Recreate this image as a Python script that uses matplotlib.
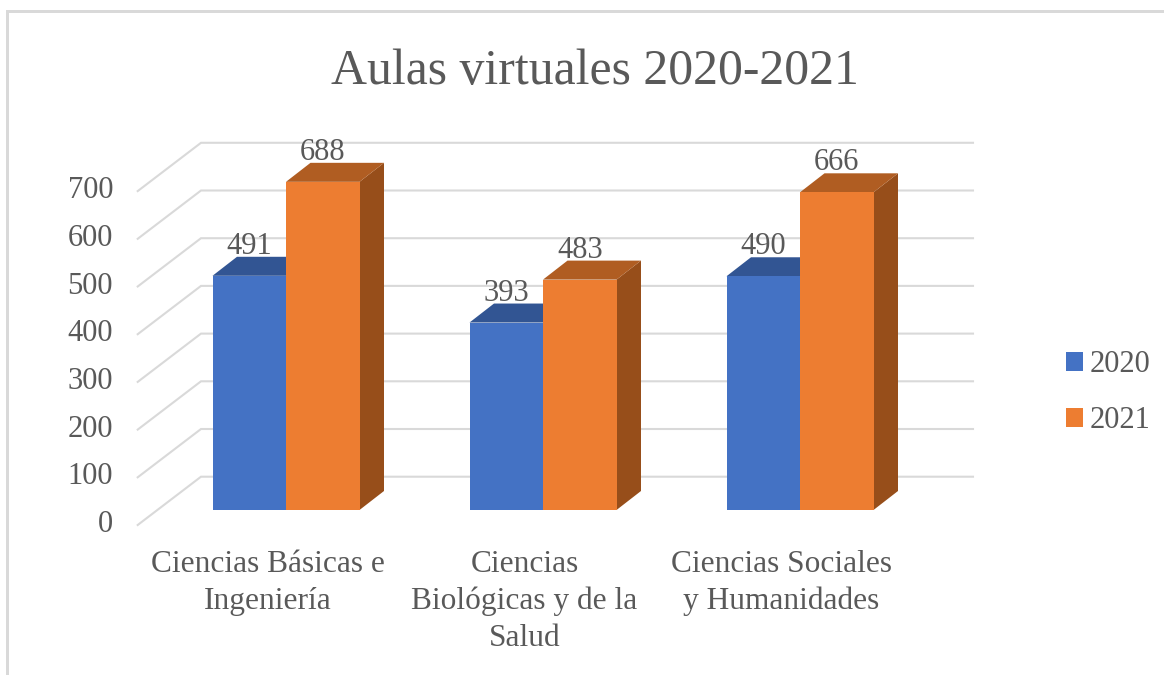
import matplotlib.pyplot as plt
from matplotlib.patches import Patch, Polygon, Rectangle

categorias = ["Ciencias Básicas e\nIngeniería",
              "Ciencias\nBiológicas y de la\nSalud",
              "Ciencias Sociales\ny Humanidades"]
anios = ["2020", "2021"]
valores_2020 = [491, 393, 490]
valores_2021 = [688, 483, 666]
marcas_y = [0, 100, 200, 300, 400, 500, 600, 700]

GRIS = "#595959"
FUENTE = ["Liberation Serif", "DejaVu Serif"]

# pixel scale of the picture: one category = 257 px, one unit of value = 0.477 px
PX_CAT = 257.0
PX_VAL = 0.477
X0 = 286.0   # px of first category centre
Y0 = 510.0   # px of value 0 at the bar front

plt.rcParams['font.family'] = FUENTE

fig = plt.figure(figsize=(11.7, 6.75), dpi=100)
ax = fig.add_axes([0, 0, 1, 1])
ax.set_xlim(-X0 / PX_CAT, (1170 - X0) / PX_CAT)
ax.set_ylim((Y0 - 675) / PX_VAL, Y0 / PX_VAL)
ax.axis("off")


def px(x, y):
    # picture pixels to data coordinates, only for chart furniture
    return (x - X0) / PX_CAT, (Y0 - y) / PX_VAL


# frame of the screenshot
fig.add_artist(Rectangle((6 / 1170, 0), 3 / 1170, 1 - 10 / 675, transform=fig.transFigure, color="#D9D9D9", lw=0))
fig.add_artist(Rectangle((6 / 1170, 1 - 13 / 675), 1158 / 1170, 3 / 675, transform=fig.transFigure, color="#D9D9D9", lw=0))

# walls: side and back gridlines
pared_x0 = px(137.7, 0)[0]
pared_x1 = px(201, 0)[0]
pared_x2 = px(973, 0)[0]
pared_dy_atras = 33.3 / PX_VAL
pared_dy_frente = -15.0 / PX_VAL
for v in marcas_y:
    ax.plot([pared_x0, pared_x1, pared_x2],
            [v + pared_dy_frente, v + pared_dy_atras, v + pared_dy_atras],
            color="#D9D9D9", lw=1.5, solid_joinstyle="miter", zorder=1)
    ax.text(px(113, 0)[0], v + pared_dy_frente + 0.5 / PX_VAL, str(v), ha="right", va="center",
            fontsize=22, color=GRIS)

# bars
ANCHO = 73.5 / PX_CAT
DX = 24.5 / PX_CAT
DY = 19.0 / PX_VAL


def barra(x, v, frente, arriba, lado):
    ax.add_patch(Polygon([(x + ANCHO, 0), (x + ANCHO + DX, DY), (x + ANCHO + DX, v + DY), (x + ANCHO, v)],
                         closed=True, fc=lado, ec="none", zorder=2))
    ax.add_patch(Polygon([(x, v), (x + DX, v + DY), (x + ANCHO + DX, v + DY), (x + ANCHO, v)],
                         closed=True, fc=arriba, ec="none", zorder=2))
    ax.add_patch(Rectangle((x, 0), ANCHO, v, fc=frente, ec="none", zorder=3))
    ax.text(x + ANCHO / 2, v + DY + 3 / PX_VAL, str(v), ha="center", va="baseline",
            fontsize=22, color=GRIS, zorder=4)


for i in range(len(categorias)):
    barra(i - ANCHO, valores_2020[i], "#4472C4", "#325593", "#2A4A85")
    barra(i, valores_2021[i], "#ED7D31", "#B05D22", "#974E1A")
    ax.text(i - 18.5 / PX_CAT, (Y0 - 550) / PX_VAL, categorias[i], ha="center", va="top",
            fontsize=22.6, color=GRIS, linespacing=1.35)

# title
ax.text(px(595, 0)[0], px(0, 84)[1], "Aulas virtuales 2020-2021", ha="center", va="baseline",
        fontsize=35.8, color=GRIS)

leg = ax.legend(handles=[Patch(fc="#4472C4", label=anios[0]), Patch(fc="#ED7D31", label=anios[1])],
                loc="upper left", bbox_to_anchor=(1060 / 1170, 1 - 344 / 675), bbox_transform=fig.transFigure,
                frameon=False, fontsize=22, handlelength=0.56, handleheight=0.56, handletextpad=0.22,
                labelspacing=0.88, borderpad=0.2, borderaxespad=0)
for t in leg.get_texts():
    t.set_color(GRIS)

fig.savefig("out.png", dpi=100)
